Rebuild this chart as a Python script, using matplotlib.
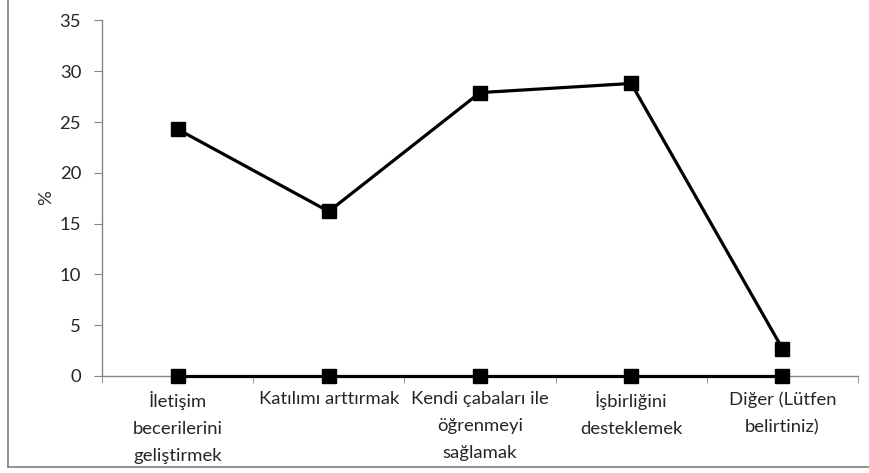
import matplotlib.pyplot as plt
from matplotlib.lines import Line2D

plt.rcParams['font.family'] = ['Lato', 'DejaVu Sans']

categories = ['İletişim\nbecerilerini\ngeliştirmek', 'Katılımı arttırmak',
              'Kendi çabaları ile\nöğrenmeyi\nsağlamak', 'İşbirliğini\ndesteklemek',
              'Diğer (Lütfen\nbelirtiniz)']
percent = [24.3, 16.2, 27.9, 28.8, 2.7]
baseline = [0, 0, 0, 0, 0]
y_ticks = [0, 5, 10, 15, 20, 25, 30, 35]

axis_grey = '#868686'
text_col = '#262626'
fs = 13.3

fig = plt.figure(figsize=(8.7, 4.73), dpi=100)
ax = fig.add_axes([0.1172, 0.2051, 0.869, 0.7516])

x = list(range(len(categories)))
ax.plot(x, percent, color='black', lw=2.3, marker='s', ms=9.5, zorder=3)
ax.plot(x, baseline, color='black', lw=2.3, marker='s', ms=9.5, zorder=3,
        clip_on=False)

ax.set_xlim(-0.5, len(categories) - 0.5)
ax.set_ylim(0, 35)
ax.set_yticks(y_ticks)
ax.set_yticklabels([str(v) for v in y_ticks], fontsize=fs, color=text_col)
ax.set_xticks(x)
ax.set_xticklabels(categories, fontsize=fs, color=text_col, linespacing=1.85)
ax.set_xticks([i - 0.5 for i in range(len(categories) + 1)], minor=True)
ax.tick_params(axis='x', which='major', length=0, pad=11)
ax.tick_params(axis='x', which='minor', length=5, color=axis_grey, direction='out')
ax.tick_params(axis='y', length=6, color=axis_grey, direction='out', pad=9)

ax.set_ylabel('%', fontsize=fs, color=text_col)
ax.yaxis.set_label_coords(-0.063, 0.503)

for side in ('top', 'right'):
    ax.spines[side].set_visible(False)
for side in ('left', 'bottom'):
    ax.spines[side].set_color(axis_grey)
    ax.spines[side].set_linewidth(1)

# outer chart frame (left and bottom edges)
fig.add_artist(Line2D([0.0092, 0.0092], [0.0127, 1.0], color='#7f7f7f', lw=1.2,
                      transform=fig.transFigure))
fig.add_artist(Line2D([0.0092, 1.0], [0.0127, 0.0127], color='#7f7f7f', lw=1.2,
                      transform=fig.transFigure))

fig.savefig('out.png', dpi=100)
